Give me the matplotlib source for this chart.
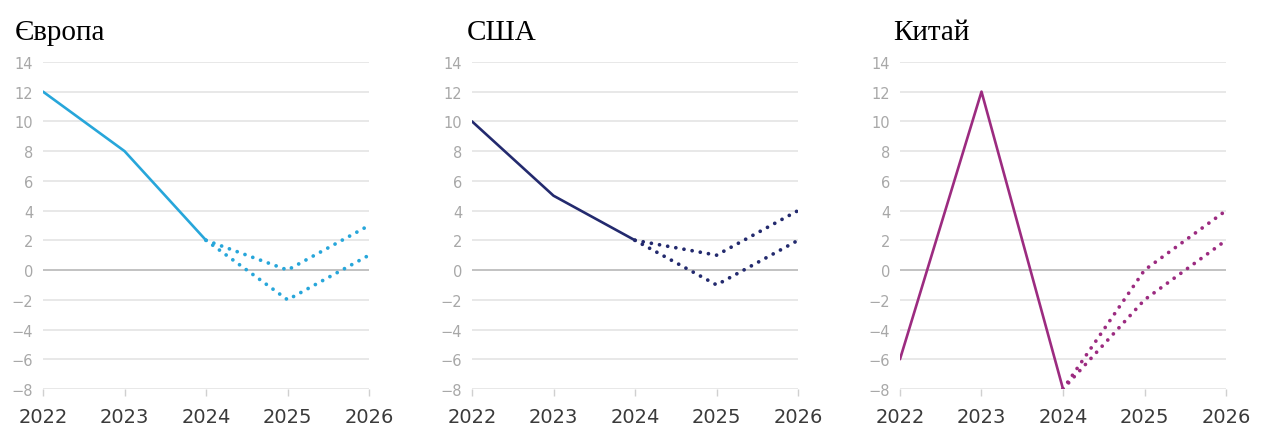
import matplotlib
matplotlib.use("Agg")
import matplotlib.pyplot as plt

years = [2022, 2023, 2024, 2025, 2026]
regions = ["Європа", "США", "Китай"]
colors = ["#27a6da", "#232a6e", "#9c2b80"]

# actual values 2022-2024
actual = [
    [12, 8, 2],
    [10, 5, 2],
    [-6, 12, -8],
]
# forecast scenarios 2024-2026 (upper / lower)
upper = [
    [2, 0, 3],
    [2, 1, 4],
    [-8, 0, 4],
]
lower = [
    [2, -2, 1],
    [2, -1, 2],
    [-8, -2, 2],
]
yticks = list(range(-8, 15, 2))

fig = plt.figure(figsize=(12.64, 4.27), dpi=100)
lefts = [0.034, 0.3734, 0.712]
title_dx = [-0.086, -0.015, -0.022]

for i, name in enumerate(regions):
    ax = fig.add_axes([lefts[i], 0.0867, 0.258, 0.766])
    for y in yticks:
        ax.axhline(y, color="#bdbdbd" if y == 0 else "#e6e6e6",
                   lw=1.3, zorder=0)
    ax.plot(years[:3], actual[i], color=colors[i], lw=1.9,
            solid_capstyle="round", zorder=3)
    for scen in (upper[i], lower[i]):
        ax.plot(years[2:], scen, color=colors[i], lw=2.7,
                linestyle=(0, (0.01, 2.2)), dash_capstyle="round", zorder=2)
    ax.set_xlim(2022, 2026)
    ax.set_ylim(-8, 14)
    ax.set_xticks(years)
    ax.set_xticklabels([str(y) for y in years])
    ax.set_yticks(yticks)
    for s in ax.spines.values():
        s.set_visible(False)
    ax.tick_params(axis="y", length=0, pad=7, labelsize=10.5,
                   labelcolor="#a8a8a8")
    ax.tick_params(axis="x", length=5, width=1, color="#d0d0d0", pad=8,
                   labelsize=14, labelcolor="#3a3a3a")
    for lab in ax.get_xticklabels() + ax.get_yticklabels():
        lab.set_fontfamily("DejaVu Sans")
    ax.text(title_dx[i], 1.07, name, transform=ax.transAxes,
            fontsize=21, family="Liberation Serif", color="black",
            ha="left", va="baseline")

fig.savefig("out.png", dpi=100, facecolor="white")
